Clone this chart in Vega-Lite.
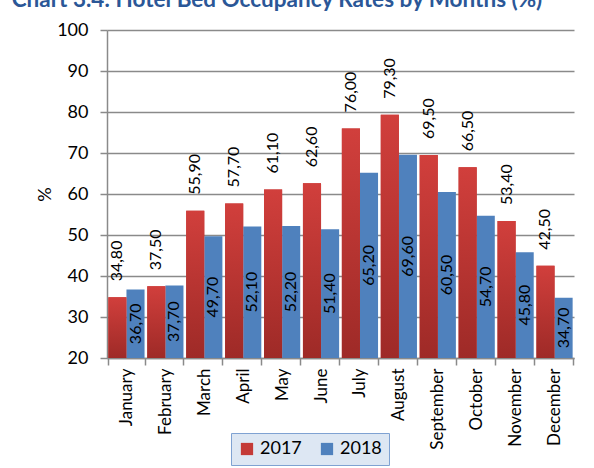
{
  "$schema": "https://vega.github.io/schema/vega-lite/v6.json",
  "width": 467,
  "height": 328,
  "autosize": "none",
  "padding": {"left": 107, "top": 30, "right": 20, "bottom": 110},
  "background": "white",
  "config": {
    "locale": {"number": {"decimal": ",", "thousands": ".", "grouping": [3], "currency": ["", ""]}},
    "font": "Lato",
    "view": {"stroke": null}
  },
  "title": {
    "text": "Chart 3.4: Hotel Bed Occupancy Rates by Months (%)",
    "anchor": "start",
    "font": "Lato",
    "fontSize": 22.5,
    "fontWeight": "bold",
    "color": "#2B5797",
    "baseline": "alphabetic",
    "dx": -25,
    "dy": 12,
    "offset": 4
  },
  "data": {
    "values": [
      {"month": "January", "year": "2017", "v": 34.8},
      {"month": "January", "year": "2018", "v": 36.7},
      {"month": "February", "year": "2017", "v": 37.5},
      {"month": "February", "year": "2018", "v": 37.7},
      {"month": "March", "year": "2017", "v": 55.9},
      {"month": "March", "year": "2018", "v": 49.7},
      {"month": "April", "year": "2017", "v": 57.7},
      {"month": "April", "year": "2018", "v": 52.1},
      {"month": "May", "year": "2017", "v": 61.1},
      {"month": "May", "year": "2018", "v": 52.2},
      {"month": "June", "year": "2017", "v": 62.6},
      {"month": "June", "year": "2018", "v": 51.4},
      {"month": "July", "year": "2017", "v": 76.0},
      {"month": "July", "year": "2018", "v": 65.2},
      {"month": "August", "year": "2017", "v": 79.3},
      {"month": "August", "year": "2018", "v": 69.6},
      {"month": "September", "year": "2017", "v": 69.5},
      {"month": "September", "year": "2018", "v": 60.5},
      {"month": "October", "year": "2017", "v": 66.5},
      {"month": "October", "year": "2018", "v": 54.7},
      {"month": "November", "year": "2017", "v": 53.4},
      {"month": "November", "year": "2018", "v": 45.8},
      {"month": "December", "year": "2017", "v": 42.5},
      {"month": "December", "year": "2018", "v": 34.7}
    ]
  },
  "encoding": {
    "x": {
      "field": "month",
      "type": "nominal",
      "sort": null,
      "scale": {"paddingInner": 0.07, "paddingOuter": 0.035},
      "axis": {
        "title": null,
        "labelAngle": 270,
        "labelAlign": "right",
        "labelBaseline": "middle",
        "labelFontSize": 17,
        "labelColor": "#000000",
        "labelPadding": 3,
        "tickBand": "extent",
        "tickSize": 7,
        "tickColor": "#8a8a8a",
        "tickWidth": 1.5,
        "domainColor": "#8a8a8a",
        "domainWidth": 1.5
      }
    },
    "xOffset": {"field": "year", "type": "nominal", "scale": {"paddingInner": 0, "paddingOuter": 0}}
  },
  "layer": [
    {
      "mark": {"type": "bar"},
      "encoding": {
        "y": {
          "field": "v",
          "type": "quantitative",
          "scale": {"domain": [20, 100], "zero": false, "nice": false},
          "axis": {
            "title": "%",
            "titleFontSize": 18,
            "titleFontWeight": "normal",
            "titleColor": "#000000",
            "titlePadding": 2,
            "values": [20, 30, 40, 50, 60, 70, 80, 90, 100],
            "grid": true,
            "gridColor": "#8a8a8a",
            "gridWidth": 1.5,
            "domainColor": "#8a8a8a",
            "domainWidth": 1.5,
            "tickColor": "#8a8a8a",
            "tickWidth": 1.5,
            "tickSize": 7,
            "labelFontSize": 18,
            "labelColor": "#000000",
            "labelPadding": 12
          }
        },
        "y2": {"datum": 20},
        "color": {
          "field": "year",
          "type": "nominal",
          "scale": {"domain": ["2017", "2018"], "range": ["#c43a37", "#4f81bd"]},
          "legend": {
            "title": null,
            "orient": "none",
            "legendX": 124,
            "legendY": 403,
            "direction": "horizontal",
            "symbolType": "square",
            "symbolSize": 150,
            "symbolStrokeWidth": 0,
            "labelFontSize": 18,
            "labelColor": "#000000",
            "labelFont": "Lato",
            "columnPadding": 16,
            "padding": 7,
            "fillColor": "#dde7f3",
            "strokeColor": "#7fa2d2"
          }
        }
      }
    },
    {
      "transform": [{"filter": "datum.year == '2017'"}],
      "mark": {
        "type": "bar",
        "color": {
          "gradient": "linear",
          "x1": 0, "y1": 0, "x2": 0, "y2": 1,
          "stops": [
            {"offset": 0, "color": "#d13f3c"},
            {"offset": 1, "color": "#9e2a27"}
          ]
        }
      },
      "encoding": {"y": {"field": "v", "type": "quantitative"}, "y2": {"datum": 20}}
    },
    {
      "transform": [{"filter": "datum.year == '2017'"}],
      "mark": {"type": "text", "angle": 270, "align": "left", "baseline": "middle", "dx": 16, "fontSize": 16, "color": "#000000"},
      "encoding": {
        "y": {"field": "v", "type": "quantitative"},
        "text": {"field": "v", "type": "quantitative", "format": ".2f"}
      }
    },
    {
      "transform": [
        {"filter": "datum.year == '2018'"},
        {"calculate": "(datum.v + 20) / 2", "as": "mid"}
      ],
      "mark": {"type": "text", "angle": 270, "align": "center", "baseline": "middle", "fontSize": 16, "color": "#000000"},
      "encoding": {
        "y": {"field": "mid", "type": "quantitative"},
        "text": {"field": "v", "type": "quantitative", "format": ".2f"}
      }
    }
  ]
}
